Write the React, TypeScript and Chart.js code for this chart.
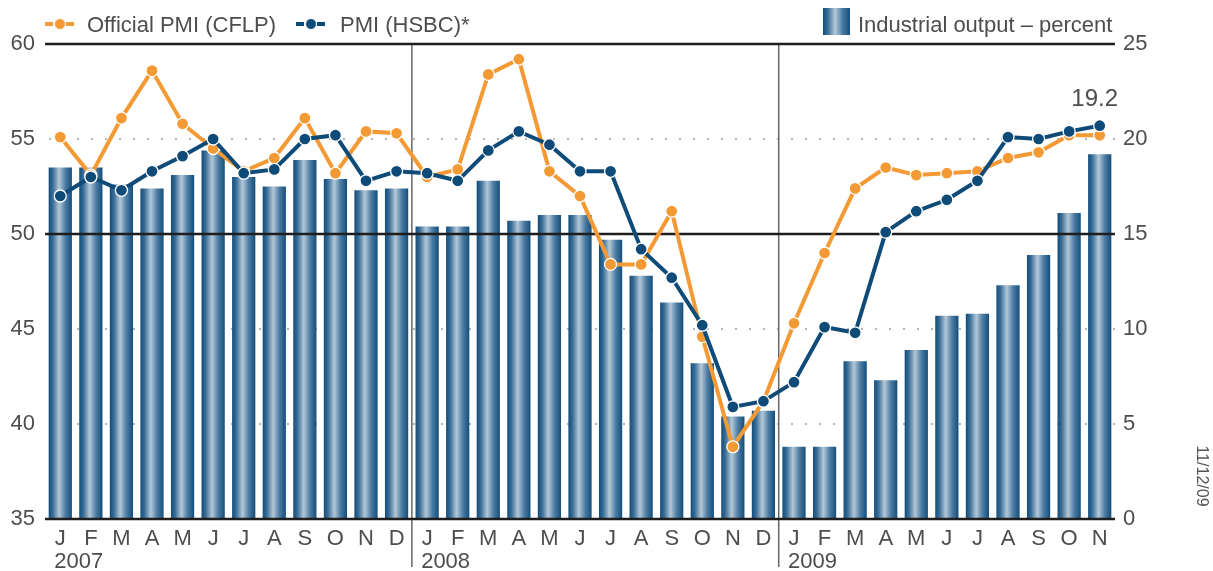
import { useEffect, useRef } from 'react';
import { Chart, registerables } from 'chart.js';

Chart.register(...registerables);

const FONT = '"Liberation Sans", Arial, Helvetica, sans-serif';
const ORANGE = '#f39a35';
const BLUE = '#0f4b78';
const TEXT = '#4d4d4d';

const monthLabels = [
  'J', 'F', 'M', 'A', 'M', 'J', 'J', 'A', 'S', 'O', 'N', 'D',
  'J', 'F', 'M', 'A', 'M', 'J', 'J', 'A', 'S', 'O', 'N', 'D',
  'J', 'F', 'M', 'A', 'M', 'J', 'J', 'A', 'S', 'O', 'N',
];
const yearLabels = ['2007', '2008', '2009'];
const yearStartIndex = [0, 12, 24];

const officialPMI = [
  55.1, 53.1, 56.1, 58.6, 55.8, 54.5, 53.3, 54.0, 56.1, 53.2, 55.4, 55.3,
  53.0, 53.4, 58.4, 59.2, 53.3, 52.0, 48.4, 48.4, 51.2, 44.6, 38.8, 41.2,
  45.3, 49.0, 52.4, 53.5, 53.1, 53.2, 53.3, 54.0, 54.3, 55.2, 55.2,
];
const hsbcPMI = [
  52.0, 53.0, 52.3, 53.3, 54.1, 55.0, 53.2, 53.4, 55.0, 55.2, 52.8, 53.3,
  53.2, 52.8, 54.4, 55.4, 54.7, 53.3, 53.3, 49.2, 47.7, 45.2, 40.9, 41.2,
  42.2, 45.1, 44.8, 50.1, 51.2, 51.8, 52.8, 55.1, 55.0, 55.4, 55.7,
];
const industrialOutput = [
  18.5, 18.5, 17.6, 17.4, 18.1, 19.4, 18.0, 17.5, 18.9, 17.9, 17.3, 17.4,
  15.4, 15.4, 17.8, 15.7, 16.0, 16.0, 14.7, 12.8, 11.4, 8.2, 5.4, 5.7,
  3.8, 3.8, 8.3, 7.3, 8.9, 10.7, 10.8, 12.3, 13.9, 16.1, 19.2,
];
const leftTicks = { min: 35, max: 60, step: 5 };
const rightTicks = { min: 0, max: 25, step: 5 };
const dottedValues = [55, 45, 40];
const solidValues = [60, 50, 35];
const lastLabel = '19.2';
const dateLabel = '11/12/09';

const BAR_PCT = 0.76;

function makeBarGradient(ctx: CanvasRenderingContext2D, x0: number, x1: number) {
  const g = ctx.createLinearGradient(x0, 0, x1, 0);
  g.addColorStop(0, '#114d7b');
  g.addColorStop(0.18, '#3a6d97');
  g.addColorStop(0.45, '#b3c8d8');
  g.addColorStop(0.72, '#4d7ca2');
  g.addColorStop(1, '#124e7c');
  return g;
}

const barColor = (c: any) => {
  const chart = c.chart;
  const xs = chart.scales && chart.scales.x;
  if (!xs || c.dataIndex === undefined || !chart.chartArea) return BLUE;
  const cx = xs.getPixelForValue(c.dataIndex);
  const w = (xs.width / monthLabels.length) * BAR_PCT;
  return makeBarGradient(chart.ctx, cx - w / 2, cx + w / 2);
};

const customPlugin = {
  id: 'customDecor',
  beforeDatasetsDraw(chart: any) {
    const { ctx, chartArea, scales } = chart;
    ctx.save();
    ctx.strokeStyle = '#b5b5b5';
    ctx.lineWidth = 2;
    ctx.setLineDash([2, 12]);
    dottedValues.forEach((v) => {
      const y = Math.round(scales.y.getPixelForValue(v));
      ctx.beginPath();
      ctx.moveTo(chartArea.left + 4, y);
      ctx.lineTo(chartArea.right, y);
      ctx.stroke();
    });
    ctx.restore();
  },
  afterDatasetDraw(chart: any, args: any) {
    if (args.index !== 0) return;
    const { ctx, chartArea, scales } = chart;
    ctx.save();
    ctx.strokeStyle = '#666';
    ctx.lineWidth = 1.5;
    yearStartIndex.slice(1).forEach((idx) => {
      const x = (scales.x.getPixelForValue(idx - 1) + scales.x.getPixelForValue(idx)) / 2;
      ctx.beginPath();
      ctx.moveTo(x, chartArea.top);
      ctx.lineTo(x, chart.height - 4);
      ctx.stroke();
    });
    ctx.strokeStyle = '#1e1e1e';
    ctx.lineWidth = 2.5;
    solidValues.forEach((v) => {
      const y = scales.y.getPixelForValue(v);
      ctx.beginPath();
      ctx.moveTo(chartArea.left, y);
      ctx.lineTo(chartArea.right, y);
      ctx.stroke();
    });
    ctx.restore();
  },
  afterDraw(chart: any) {
    const { ctx, scales } = chart;
    ctx.save();
    ctx.fillStyle = TEXT;
    ctx.font = `22px ${FONT}`;
    ctx.textAlign = 'left';
    ctx.textBaseline = 'alphabetic';
    yearLabels.forEach((lab, i) => {
      const x = scales.x.getPixelForValue(yearStartIndex[i]) - 6;
      ctx.fillText(lab, x, scales.x.top + 49);
    });

    const drawLineIcon = (cx: number, y: number, color: string) => {
      ctx.strokeStyle = color;
      ctx.lineWidth = 4;
      ctx.beginPath();
      ctx.moveTo(cx - 15, y);
      ctx.lineTo(cx - 7, y);
      ctx.moveTo(cx + 6, y);
      ctx.lineTo(cx + 14, y);
      ctx.stroke();
      ctx.beginPath();
      ctx.arc(cx, y, 5.5, 0, Math.PI * 2);
      ctx.fillStyle = color;
      ctx.fill();
      ctx.strokeStyle = '#fff';
      ctx.lineWidth = 1;
      ctx.stroke();
    };
    drawLineIcon(60, 24, ORANGE);
    drawLineIcon(311, 24, BLUE);
    ctx.fillStyle = TEXT;
    ctx.font = `22px ${FONT}`;
    ctx.fillText(chart.data.datasets[1].label, 87, 32);
    ctx.fillText(chart.data.datasets[2].label, 340, 32);
    ctx.fillStyle = makeBarGradient(ctx, 823, 850);
    ctx.fillRect(823, 8, 27, 27);
    ctx.fillStyle = TEXT;
    ctx.fillText(chart.data.datasets[0].label, 858, 32);

    const li = industrialOutput.length - 1;
    ctx.font = `24px ${FONT}`;
    ctx.textAlign = 'center';
    ctx.fillText(lastLabel, scales.x.getPixelForValue(li) - 5, 106);

    ctx.font = `16px ${FONT}`;
    ctx.fillStyle = '#555';
    ctx.translate(1201, 476);
    ctx.rotate(Math.PI / 2);
    ctx.textAlign = 'center';
    ctx.textBaseline = 'middle';
    ctx.fillText(dateLabel, 0, 0);
    ctx.restore();
  },
};

export default function App() {
  const ref = useRef<HTMLCanvasElement>(null);
  useEffect(() => {
    if (!ref.current) return;
    const tickFont = { size: 22, family: FONT };
    const chart = new Chart(ref.current, {
      type: 'bar',
      data: {
        labels: monthLabels,
        datasets: [
          {
            type: 'bar',
            label: 'Industrial output – percent',
            data: industrialOutput,
            yAxisID: 'y1',
            backgroundColor: barColor as any,
            borderWidth: 0,
            barPercentage: BAR_PCT,
            categoryPercentage: 1,
            order: 3,
          },
          {
            type: 'line',
            label: 'Official PMI (CFLP)',
            data: officialPMI,
            yAxisID: 'y',
            borderColor: ORANGE,
            backgroundColor: ORANGE,
            borderWidth: 4,
            pointRadius: 6,
            pointBackgroundColor: ORANGE,
            pointBorderColor: '#ffffff',
            pointBorderWidth: 1.3,
            tension: 0,
            order: 2,
          },
          {
            type: 'line',
            label: 'PMI (HSBC)*',
            data: hsbcPMI,
            yAxisID: 'y',
            borderColor: BLUE,
            backgroundColor: BLUE,
            borderWidth: 4,
            pointRadius: 6,
            pointBackgroundColor: BLUE,
            pointBorderColor: '#ffffff',
            pointBorderWidth: 1.3,
            tension: 0,
            order: 1,
          },
        ],
      },
      options: {
        responsive: false,
        animation: false,
        devicePixelRatio: 1,
        layout: { padding: { top: 44, left: 0, right: 0, bottom: 0 } },
        plugins: { legend: { display: false }, tooltip: { enabled: false } },
        scales: {
          x: {
            grid: { display: false, drawTicks: false },
            border: { display: false },
            ticks: { font: tickFont, color: TEXT, padding: 7, maxRotation: 0, autoSkip: false },
            afterFit: (s: any) => { s.height = 52; },
          },
          y: {
            position: 'left',
            min: leftTicks.min,
            max: leftTicks.max,
            ticks: { stepSize: leftTicks.step, font: tickFont, color: TEXT, padding: 10 },
            grid: { display: false, drawTicks: false },
            border: { display: false },
            afterFit: (s: any) => { s.width = 45; },
          },
          y1: {
            position: 'right',
            min: rightTicks.min,
            max: rightTicks.max,
            ticks: { stepSize: rightTicks.step, font: tickFont, color: TEXT, padding: 8 },
            grid: { display: false, drawTicks: false },
            border: { display: false },
            afterFit: (s: any) => { s.width = 98; },
          },
        },
      },
      plugins: [customPlugin],
    });
    return () => chart.destroy();
  }, []);
  return (
    <canvas
      ref={ref}
      width={1213}
      height={571}
      style={{ position: 'absolute', left: 0, top: 0, display: 'block' }}
    />
  );
}
